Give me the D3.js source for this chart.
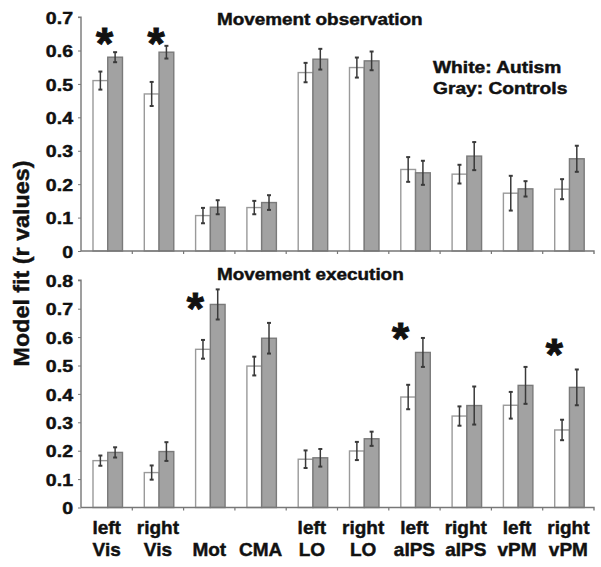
<!DOCTYPE html>
<html>
<head>
<meta charset="utf-8">
<script src="https://cdn.jsdelivr.net/npm/d3@7"></script>
<style>
  html, body { margin: 0; padding: 0; background: #fff; }
  svg { display: block; }
  text { font-family: "Liberation Sans", Arial, Helvetica, sans-serif; font-weight: bold; fill: #111; stroke: #111; stroke-width: 0.45px; }
</style>
</head>
<body>
<script>
// ---- data ----
const categories = ["left Vis","right Vis","Mot","CMA","left LO","right LO","left aIPS","right aIPS","left vPM","right vPM"];
const catLine1 = ["left","right","","","left","right","left","right","left","right"];
const catLine2 = ["Vis","Vis","Mot","CMA","LO","LO","aIPS","aIPS","vPM","vPM"];
const groups = ["Autism","Controls"];

const obsAutism      = [0.51, 0.47, 0.106, 0.13, 0.534, 0.549, 0.244, 0.23, 0.173, 0.185];
const obsAutismErr   = [0.027, 0.036, 0.023, 0.02, 0.029, 0.03, 0.037, 0.028, 0.052, 0.03];
const obsControls    = [0.58, 0.595, 0.131, 0.145, 0.574, 0.569, 0.234, 0.284, 0.186, 0.276];
const obsControlsErr = [0.015, 0.019, 0.021, 0.022, 0.031, 0.028, 0.036, 0.042, 0.023, 0.039];

const exeAutism      = [0.165, 0.123, 0.557, 0.498, 0.17, 0.199, 0.389, 0.322, 0.36, 0.273];
const exeAutismErr   = [0.018, 0.025, 0.033, 0.033, 0.031, 0.032, 0.043, 0.034, 0.047, 0.036];
const exeControls    = [0.194, 0.197, 0.715, 0.596, 0.175, 0.242, 0.546, 0.359, 0.43, 0.423];
const exeControlsErr = [0.018, 0.033, 0.053, 0.054, 0.031, 0.025, 0.051, 0.067, 0.065, 0.063];

const obsTicks = [0, 0.1, 0.2, 0.3, 0.4, 0.5, 0.6, 0.7];
const exeTicks = [0, 0.1, 0.2, 0.3, 0.4, 0.5, 0.6, 0.7, 0.8];

const obsSig  = ["left Vis", "right Vis"];
const obsSigY = [0.65, 0.65];
const exeSig  = ["Mot", "left aIPS", "right vPM"];
const exeSigY = [0.734, 0.629, 0.572];

const obsTitle = "Movement observation";
const exeTitle = "Movement execution";
const legendLines = ["White: Autism", "Gray: Controls"];
const yTitle = "Model fit (r values)";

// ---- layout ----
const W = 601, H = 567;
const svg = d3.select("body").append("svg").attr("width", W).attr("height", H);

const x0 = d3.scaleBand().domain(categories).range([81, 594]).padding(0);
const x1 = d3.scaleBand().domain(groups).range([0, x0.bandwidth()])
  .paddingInner(0).paddingOuter(0.74).align(0.55);

const fills = { Autism: "#ffffff", Controls: "#a2a2a2" };
const strokes = { Autism: "#9a9a9a", Controls: "#7a7a7a" };

function panel(cfg) {
  const y = d3.scaleLinear().domain(cfg.domain).range(cfg.range);
  const g = svg.append("g");

  const rows = categories.map((c, i) => ({
    cat: c,
    vals: [
      { grp: "Autism", v: cfg.a[i], e: cfg.ae[i] },
      { grp: "Controls", v: cfg.c[i], e: cfg.ce[i] }
    ]
  }));

  const cg = g.selectAll("g.cat").data(rows).join("g")
    .attr("transform", d => `translate(${x0(d.cat)},0)`);

  cg.selectAll("rect").data(d => d.vals).join("rect")
    .attr("x", d => x1(d.grp))
    .attr("width", x1.bandwidth())
    .attr("y", d => y(d.v))
    .attr("height", d => y(0) - y(d.v))
    .attr("fill", d => fills[d.grp])
    .attr("stroke", d => strokes[d.grp])
    .attr("stroke-width", 1.4);

  const eb = cg.selectAll("g.err").data(d => d.vals).join("g")
    .attr("transform", d => `translate(${x1(d.grp) + x1.bandwidth() / 2},0)`);
  eb.append("line").attr("y1", d => y(d.v - d.e)).attr("y2", d => y(d.v + d.e))
    .attr("stroke", "#3a3a3a").attr("stroke-width", 1.5);
  eb.append("line").attr("x1", -2).attr("x2", 2).attr("y1", d => y(d.v + d.e)).attr("y2", d => y(d.v + d.e))
    .attr("stroke", "#3a3a3a").attr("stroke-width", 2);
  eb.append("line").attr("x1", -2).attr("x2", 2).attr("y1", d => y(d.v - d.e)).attr("y2", d => y(d.v - d.e))
    .attr("stroke", "#3a3a3a").attr("stroke-width", 2);

  // y axis
  const ya = g.append("g").attr("transform", "translate(81,0)")
    .call(d3.axisLeft(y).tickValues(cfg.ticks).tickSize(3).tickFormat(d => d === 0 ? "0" : d3.format(".1f")(d)));
  ya.select(".domain").attr("stroke", "#777").attr("stroke-width", 1.4).attr("d", `M-3,${y(cfg.domain[1])}H0V${y(0)}`);
  ya.selectAll(".tick line").attr("stroke", "#777");
  ya.selectAll(".tick text")
    .attr("x", 0).attr("dy", "0.36em")
    .attr("transform", "translate(-8,0) scale(1.15,1)")
    .style("font-size", "17px").style("font-family", "'Liberation Sans', Arial, sans-serif")
    .style("font-weight", "bold").attr("fill", "#111");

  // x axis
  const xa = g.append("g").attr("transform", `translate(0,${y(0)})`)
    .call(d3.axisBottom(x0).tickSize(0).tickFormat(""));
  xa.select(".domain").attr("stroke", "#777").attr("stroke-width", 1.4).attr("d", "M81,0H594V3");
  xa.selectAll(".bnd").data(categories.slice(1)).join("line")
    .attr("x1", d => x0(d)).attr("x2", d => x0(d)).attr("y1", 0).attr("y2", 3)
    .attr("stroke", "#777").attr("stroke-width", 1.2);

  // title
  g.append("text").text(cfg.title)
    .attr("transform", `translate(${cfg.titleX},${cfg.titleY}) scale(1.145,1)`)
    .style("font-size", "16.5px");

  // significance stars
  g.selectAll("text.star").data(cfg.sig.map((s, i) => ({ s, v: cfg.sigY[i] }))).join("text")
    .attr("class", "star")
    .attr("x", d => x0(d.s) + x0.bandwidth() / 2 + cfg.starDx)
    .attr("y", d => y(d.v) + 25)
    .attr("text-anchor", "middle")
    .style("font-size", "44px")
    .style("stroke-width", "1px")
    .text("*");
  return y;
}

panel({
  domain: [0, 0.7], range: [251, 17.1], ticks: obsTicks,
  a: obsAutism, ae: obsAutismErr, c: obsControls, ce: obsControlsErr,
  title: obsTitle, titleX: 217, titleY: 25,
  sig: obsSig, sigY: obsSigY, starDx: -2
});
panel({
  domain: [0, 0.8], range: [507.5, 280.3], ticks: exeTicks,
  a: exeAutism, ae: exeAutismErr, c: exeControls, ce: exeControlsErr,
  title: exeTitle, titleX: 217, titleY: 280,
  sig: exeSig, sigY: exeSigY, starDx: -14
});

// legend
svg.selectAll("text.leg").data(legendLines).join("text")
  .attr("class", "leg")
  .attr("transform", (d, i) => `translate(433,${73 + i * 21}) scale(1.2,1)`)
  .style("font-size", "16px")
  .text(d => d);

// category labels
const cl = svg.selectAll("g.clab").data(categories).join("g")
  .attr("transform", d => `translate(${x0(d) + x0.bandwidth() / 2},0)`);
cl.append("text").attr("text-anchor", "middle").attr("y", 534).style("font-size", "19px")
  .text((d, i) => catLine1[i]);
cl.append("text").attr("text-anchor", "middle").attr("y", 556).style("font-size", "19px")
  .text((d, i) => catLine2[i]);

// y title
svg.append("text")
  .attr("transform", "translate(29,263.5) rotate(-90)")
  .attr("text-anchor", "middle")
  .style("font-size", "22px")
  .attr("textLength", 206).attr("lengthAdjust", "spacingAndGlyphs")
  .text(yTitle);
</script>
</body>
</html>
